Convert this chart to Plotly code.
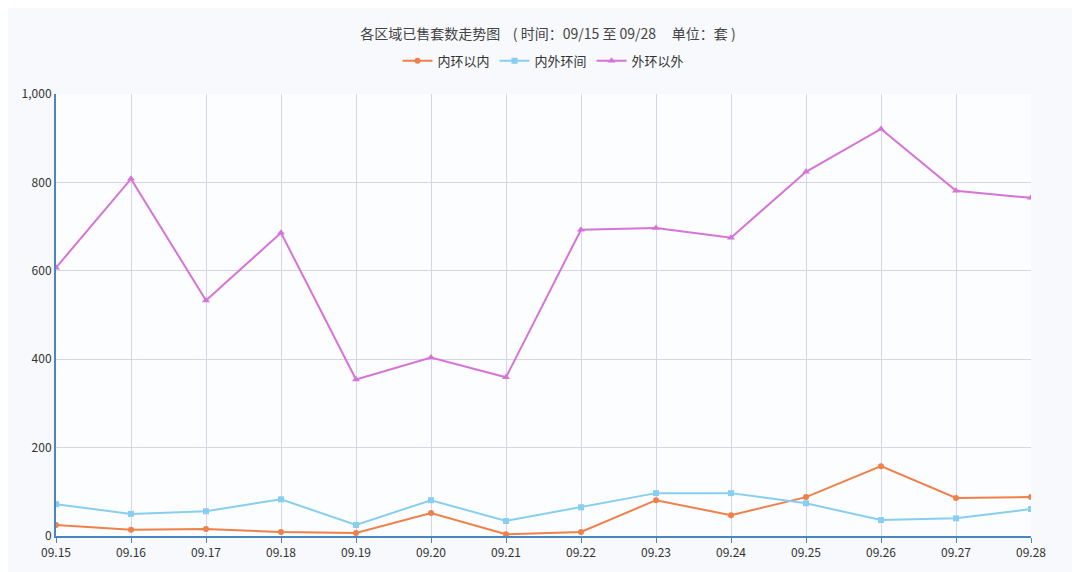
import plotly.graph_objects as go

dates = ["09.15","09.16","09.17","09.18","09.19","09.20","09.21","09.22","09.23","09.24","09.25","09.26","09.27","09.28"]
inner = [25,14,16,9,7,52,4,9,81,47,88,158,86,88]
middle = [72,50,56,83,25,81,34,65,97,97,74,36,40,61]
outer = [607,808,533,686,354,404,359,693,697,675,824,921,781,765]

fig = go.Figure()
fig.add_trace(go.Scatter(x=dates, y=inner, name="内环以内", mode="lines+markers",
    line=dict(color="#f0804a", width=2), marker=dict(symbol="circle", size=6)))
fig.add_trace(go.Scatter(x=dates, y=middle, name="内外环间", mode="lines+markers",
    line=dict(color="#87cef0", width=2), marker=dict(symbol="square", size=6)))
fig.add_trace(go.Scatter(x=dates, y=outer, name="外环以外", mode="lines+markers",
    line=dict(color="#d574d8", width=2), marker=dict(symbol="triangle-up", size=7)))

fig.update_layout(
    width=1080, height=572,
    paper_bgcolor="#f7f9fc", plot_bgcolor="rgba(255,255,255,0.6)",
    font=dict(family="Noto Sans CJK SC", size=12, color="#333"),
    title=dict(text="各区域已售套数走势图    ( 时间：09/15 至 09/28     单位：套 )",
               x=0.5, y=0.955, xanchor="center", yanchor="middle", font=dict(size=14, color="#444")),
    legend=dict(orientation="h", x=0.5, xanchor="center", y=1.075, yanchor="middle", font=dict(size=13)),
    margin=dict(l=48, r=57, t=86, b=44),
    xaxis=dict(showgrid=True, gridcolor="#d8d4e6", showline=True, linecolor="#4a86c0", linewidth=2,
               ticks="outside", tickcolor="#4a86c0", range=[0, 13], tickfont=dict(size=12)),
    yaxis=dict(range=[0, 1000], dtick=200, tickformat=",", showgrid=True, gridcolor="#d8d4e6",
               showline=True, linecolor="#4a86c0", linewidth=2, zeroline=False, tickfont=dict(size=12)),
)
fig.update_xaxes(type="category")
fig.write_html("out.html")
